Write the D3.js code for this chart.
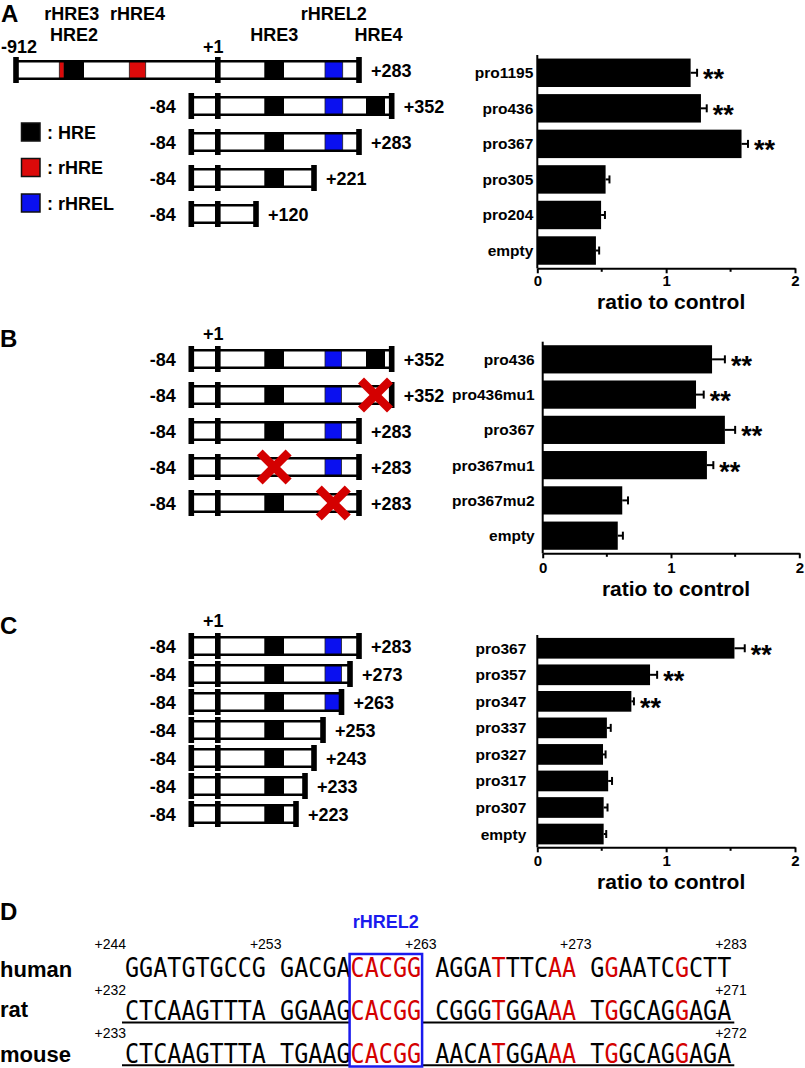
<!DOCTYPE html>
<html><head><meta charset="utf-8">
<script src="https://cdn.jsdelivr.net/npm/d3@7"></script>
<style>
body{margin:0;background:#fff;}
svg{display:block;font-family:"Liberation Sans",Arial,sans-serif;}
</style></head><body>
<svg id="c" width="805" height="1068"></svg>
<script>
// ================= DATA =================
const panelLabels = ["A", "B", "C", "D"];

// --- bar charts (ratio to control) ---
const catsA = ["pro1195", "pro436", "pro367", "pro305", "pro204", "empty"];
const valsA = [1.19, 1.27, 1.585, 0.53, 0.495, 0.455];
const errsA = [0.05, 0.045, 0.05, 0.03, 0.03, 0.025];
const sigA  = ["**", "**", "**", "", "", ""];

const catsB = ["pro436", "pro436mu1", "pro367", "pro367mu1", "pro367mu2", "empty"];
const valsB = [1.32, 1.195, 1.42, 1.28, 0.62, 0.585];
const errsB = [0.10, 0.06, 0.08, 0.05, 0.045, 0.04];
const sigB  = ["**", "**", "**", "**", "", ""];

const catsC = ["pro367", "pro357", "pro347", "pro337", "pro327", "pro317", "pro307", "empty"];
const valsC = [1.53, 0.875, 0.73, 0.54, 0.51, 0.55, 0.515, 0.515];
const errsC = [0.08, 0.055, 0.02, 0.03, 0.02, 0.03, 0.03, 0.02];
const sigC  = ["**", "**", "**", "", "", "", "", ""];

const xDomain = [0, 2];
const xTicks = [0, 1, 2];
const xMinorTicks = [0.5, 1.5];
const xTitle = "ratio to control";

// --- promoter elements (bp relative to +1) ---
const elementNames = ["rHRE3", "HRE2", "rHRE4", "HRE3", "rHREL2", "HRE4"];
const elementTypes = ["rHRE", "HRE", "rHRE", "HRE", "rHREL", "HRE"];
const elementStart = [-700, -690, -400, 150, 259, 320];
const elementEnd   = [-690, -650, -370, 170, 263, 345];

const legendTypes  = ["HRE", "rHRE", "rHREL"];
const legendLabels = [": HRE", ": rHRE", ": rHREL"];

// constructs: start, end, mutated element
const constructsA = [[-912, 283, null], [-84, 352, null], [-84, 283, null], [-84, 221, null], [-84, 120, null]];
const constructsB = [[-84, 352, null], [-84, 352, "HRE4"], [-84, 283, null], [-84, 283, "HRE3"], [-84, 283, "rHREL2"]];
const constructsC = [[-84, 283, null], [-84, 273, null], [-84, 263, null], [-84, 253, null], [-84, 243, null], [-84, 233, null], [-84, 223, null]];

// schematic (not to scale) bp breakpoints for the maps
const mapBreaksA  = [-912, -700, -690, -650, -400, -370, -84, 1, 120, 150, 170, 221, 259, 263, 283, 320, 345, 352];
const mapBreaksBC = [-84, 1, 150, 170, 223, 233, 243, 253, 259, 263, 273, 283, 320, 345, 352];

// --- panel D sequences ---
const species = ["human", "rat", "mouse"];
const sequences = [
  "GGATGTGCCG GACGACACGG AGGATTTCAA GGAATCGCTT",
  "CTCAAGTTTA GGAAGCACGG CGGGTGGAAA TGGCAGGAGA",
  "CTCAAGTTTA TGAAGCACGG AACATGGAAA TGGCAGGAGA"
];
const redIndex = [16, 17, 18, 19, 20, 26, 30, 31, 34, 39];
const boxRange = [16, 20];
const boxLabel = "rHREL2";
const posLabelsHuman = [["+244", 0], ["+253", 9], ["+263", 20], ["+273", 31], ["+283", 42]];
const posLabelsRat   = [["+232", 0], ["+271", 42]];
const posLabelsMouse = [["+233", 0], ["+272", 42]];
const underlined = [false, true, true];

// ================= DRAWING =================
const svg = d3.select("#c");
const FONT = "'Liberation Sans', Arial, sans-serif";
const colors = {HRE: "#000", rHRE: "#dc0a0a", rHREL: "#0a10f0"};
const elements = elementNames.map((n, i) => ({name: n, type: elementTypes[i], s: elementStart[i], e: elementEnd[i]}));

// panel letters
const letterPos = [[1, 22], [0, 347], [0, 634], [0, 920]];
svg.selectAll("text.panel").data(panelLabels).join("text")
  .attr("class", "panel")
  .attr("x", (d, i) => letterPos[i][0]).attr("y", (d, i) => letterPos[i][1])
  .attr("font-size", 24).attr("font-weight", "bold").text(d => d);

// ---------- promoter maps ----------
const scaleA = d3.scaleLinear().domain(mapBreaksA)
  .range([16, 59.3, 64, 84, 129.3, 145.7, 191.3, 217.8, 256, 264.3, 284, 314, 325, 342.7, 359, 366, 385, 391.7]);
const scaleBC = d3.scaleLinear().domain(mapBreaksBC)
  .range([191.3, 217.8, 264.3, 284, 296, 305, 314, 323, 325, 341.5, 350, 359, 366, 385, 391.7]);

const H = 17.4;
function drawConstruct(g, sc, c, y) {
  const [s, e, mut] = c;
  const gg = g.append("g");
  const els = elements.filter(el => el.s < e && el.e > s && el.name !== mut);
  gg.selectAll("rect.el").data(els).join("rect")
    .attr("x", el => sc(Math.max(el.s, s)))
    .attr("width", el => sc(Math.min(el.e, e)) - sc(Math.max(el.s, s)))
    .attr("y", y - H / 2).attr("height", H)
    .attr("fill", el => colors[el.type])
    .attr("stroke", el => el.type === "HRE" ? "none" : "#222").attr("stroke-width", 0.8);
  [y - H / 2, y + H / 2].forEach(yy => gg.append("line")
    .attr("x1", sc(s)).attr("x2", sc(e)).attr("y1", yy).attr("y2", yy)
    .attr("stroke", "#000").attr("stroke-width", 2.6));
  gg.selectAll("rect.tick").data([s, 1, e]).join("rect")
    .attr("x", p => sc(p) - 2.8).attr("width", 5.6)
    .attr("y", y - 13).attr("height", 26).attr("fill", "#000");
  if (s === -84) {
    gg.append("text").attr("x", sc(s) - 15.5).attr("y", y + 7).attr("text-anchor", "end")
      .attr("font-size", 18).attr("font-weight", "bold").text(String(s));
  }
  gg.append("text").attr("x", sc(e) + 12).attr("y", y + 7)
    .attr("font-size", 18).attr("font-weight", "bold").text("+" + e);
  if (mut) {
    const el = elements.find(d => d.name === mut);
    const cx = sc((el.s + el.e) / 2), h = 14.5;
    [[-h, -h, h, h], [-h, h, h, -h]].forEach(l => gg.append("line")
      .attr("x1", cx + l[0]).attr("y1", y + l[1]).attr("x2", cx + l[2]).attr("y2", y + l[3])
      .attr("stroke", "#d40000").attr("stroke-width", 8.5));
  }
}

// Panel A map
const gA = svg.append("g");
const rowYA = d3.scaleLinear().domain([0, 4]).range([70, 214]);
constructsA.forEach((c, i) => drawConstruct(gA, scaleA, c, rowYA(i)));
const upper = [["rHRE3", (scaleA(-700) + scaleA(-650)) / 2], ["rHRE4", scaleA(-385)], ["rHREL2", scaleA(261)]];
const lower = [["HRE2", scaleA(-670)], ["HRE3", scaleA(160)], ["HRE4", scaleA(332.5) + 3]];
gA.selectAll("text.up").data(upper).join("text").attr("x", d => d[1]).attr("y", 20)
  .attr("text-anchor", "middle").attr("font-size", 18).attr("font-weight", "bold").text(d => d[0]);
gA.selectAll("text.lo").data(lower).join("text").attr("x", d => d[1]).attr("y", 40.5)
  .attr("text-anchor", "middle").attr("font-size", 18).attr("font-weight", "bold").text(d => d[0]);
gA.append("text").attr("x", scaleA(-912) + 3).attr("y", 52.5).attr("text-anchor", "middle")
  .attr("font-size", 18).attr("font-weight", "bold").text("-912");
gA.append("text").attr("x", scaleA(1) - 4.5).attr("y", 52.5).attr("text-anchor", "middle")
  .attr("font-size", 18).attr("font-weight", "bold").text("+1");
// legend
const legY = d3.scaleLinear().domain([0, 2]).range([132, 203]);
legendTypes.forEach((t, i) => {
  gA.append("rect").attr("x", 21.5).attr("y", legY(i) - 9).attr("width", 18.5).attr("height", 18)
    .attr("fill", colors[t]).attr("stroke", "#111").attr("stroke-width", 1.5);
  gA.append("text").attr("x", 47).attr("y", legY(i) + 6.5).attr("font-size", 18)
    .attr("font-weight", "bold").text(legendLabels[i]);
});

// Panel B map
const gB = svg.append("g");
const rowYB = d3.scaleLinear().domain([0, 4]).range([359, 503]);
constructsB.forEach((c, i) => drawConstruct(gB, scaleBC, c, rowYB(i)));
gB.append("text").attr("x", scaleBC(1) - 4.5).attr("y", 340).attr("text-anchor", "middle")
  .attr("font-size", 18).attr("font-weight", "bold").text("+1");

// Panel C map
const gC = svg.append("g");
const rowYC = d3.scaleLinear().domain([0, 6]).range([646, 814]);
constructsC.forEach((c, i) => drawConstruct(gC, scaleBC, c, rowYC(i)));
gC.append("text").attr("x", scaleBC(1) - 4.5).attr("y", 627).attr("text-anchor", "middle")
  .attr("font-size", 18).attr("font-weight", "bold").text("+1");

// ---------- bar charts ----------
function barChart(cats, vals, errs, sig, xr, yr, gap, padIn, padOut, tickOff, titleOff) {
  const g = svg.append("g");
  const x = d3.scaleLinear().domain(xDomain).range(xr);
  const y = d3.scaleBand().domain(cats).range(yr).paddingInner(padIn).paddingOuter(padOut);
  const bw = y.bandwidth();
  g.selectAll("rect.bar").data(cats).join("rect")
    .attr("x", x(0)).attr("y", d => y(d))
    .attr("width", (d, i) => x(vals[i]) - x(0)).attr("height", bw).attr("fill", "#000");
  g.selectAll("line.err").data(cats).join("line")
    .attr("x1", (d, i) => x(vals[i])).attr("x2", (d, i) => x(vals[i] + errs[i]))
    .attr("y1", d => y(d) + bw / 2).attr("y2", d => y(d) + bw / 2)
    .attr("stroke", "#000").attr("stroke-width", 2);
  g.selectAll("line.cap").data(cats).join("line")
    .attr("x1", (d, i) => x(vals[i] + errs[i])).attr("x2", (d, i) => x(vals[i] + errs[i]))
    .attr("y1", d => y(d) + bw / 2 - 4).attr("y2", d => y(d) + bw / 2 + 4)
    .attr("stroke", "#000").attr("stroke-width", 2);
  g.selectAll("text.sig").data(cats).join("text")
    .attr("x", (d, i) => x(vals[i] + errs[i]) + 6).attr("y", d => y(d) + bw / 2 + 15.5)
    .attr("font-size", 27).attr("font-weight", "bold").text((d, i) => sig[i]);
  g.selectAll("text.cat").data(cats).join("text")
    .attr("x", x(0) - gap).attr("y", d => y(d) + bw / 2 + 5.5).attr("text-anchor", "end")
    .attr("font-size", 15.5).attr("font-weight", "bold").text(d => d);
  g.append("line").attr("x1", x(0)).attr("x2", x(0)).attr("y1", yr[0]).attr("y2", yr[1])
    .attr("stroke", "#000").attr("stroke-width", 2);
  const ax = g.append("g").attr("transform", `translate(0,${yr[1]})`)
    .call(d3.axisBottom(x).tickValues(xTicks).tickFormat(d3.format("d"))
      .tickSize(5).tickSizeOuter(0).tickPadding(4));
  ax.attr("font-family", FONT).attr("font-size", 15).attr("font-weight", "bold");
  ax.select(".domain").attr("stroke-width", 2);
  ax.selectAll(".tick line").attr("stroke-width", 2);
  ax.selectAll(".tick text").attr("dy", null).attr("y", tickOff);
  g.selectAll("line.minor").data(xMinorTicks).join("line")
    .attr("x1", d => x(d)).attr("x2", d => x(d)).attr("y1", yr[1]).attr("y2", yr[1] + 3.5)
    .attr("stroke", "#000").attr("stroke-width", 2);
  g.append("text").attr("x", (xr[0] + xr[1]) / 2 + 5).attr("y", yr[1] + titleOff)
    .attr("text-anchor", "middle").attr("font-size", 21).attr("font-weight", "bold").text(xTitle);
}
barChart(catsA, valsA, errsA, sigA, [537.3, 795], [55, 268.3], 4, 0.2, 0.1, 17.5, 40.2);
barChart(catsB, valsB, errsB, sigB, [542.7, 799.3], [341.7, 553.3], 8, 0.2, 0.1, 20, 42.7);
barChart(catsC, valsC, errsC, sigC, [537.3, 795], [635, 847.3], 11, 0.22, 0.11, 18.5, 41.2);

// ---------- panel D ----------
const gD = svg.append("g");
const ADV = 14.1;
const seqX = d3.scaleLinear().domain([0, 43]).range([125, 125 + 43 * ADV]);
const seqBase = [976.7, 1020, 1062.7];
const labelBase = [948.5, 995, 1037.5];
const nameBase = [976.7, 1017.3, 1061.7];
gD.selectAll("text.sp").data(species).join("text")
  .attr("x", 0).attr("y", (d, i) => nameBase[i])
  .attr("font-size", 22).attr("font-weight", "bold").text(d => d);
sequences.forEach((seq, r) => {
  const runs = [];
  for (let i = 0; i < seq.length; i++) {
    if (seq[i] === " ") continue;
    const red = redIndex.includes(i);
    const last = runs[runs.length - 1];
    if (last && last.red === red && last.end === i - 1) { last.s += seq[i]; last.end = i; }
    else runs.push({red, s: seq[i], start: i, end: i});
  }
  const row = gD.append("g").attr("transform", `translate(0,${seqBase[r]}) scale(1,1.12)`);
  row.selectAll("text").data(runs).join("text")
    .attr("x", d => seqX(d.start)).attr("y", 0)
    .attr("font-family", "'DejaVu Sans Mono', monospace").attr("font-size", ADV / 0.602)
    .attr("fill", d => d.red ? "#d40000" : "#000").text(d => d.s);
  if (underlined[r]) {
    [[seqX(0) - 3, seqX(boxRange[0]) - 1], [seqX(boxRange[1] + 1) + 1, seqX(43) + 3]].forEach(sg =>
      gD.append("line").attr("x1", sg[0]).attr("x2", sg[1])
        .attr("y1", seqBase[r] + 2.5).attr("y2", seqBase[r] + 2.5)
        .attr("stroke", "#000").attr("stroke-width", 2));
  }
});
[posLabelsHuman, posLabelsRat, posLabelsMouse].forEach((pl, r) => {
  gD.selectAll(null).data(pl).join("text")
    .attr("x", d => d[1] === 0 ? seqX(0) + 1 : seqX(d[1]) - 2)
    .attr("y", labelBase[r])
    .attr("text-anchor", d => d[1] === 0 ? "end" : "start")
    .attr("font-size", 14).text(d => d[0]);
});
gD.append("rect").attr("x", seqX(boxRange[0]) - 1).attr("y", 954)
  .attr("width", seqX(boxRange[1] + 1) - seqX(boxRange[0]) + 2).attr("height", 112.5)
  .attr("fill", "none").attr("stroke", "#1a1aee").attr("stroke-width", 2.5);
gD.append("text").attr("x", (seqX(boxRange[0]) + seqX(boxRange[1] + 1)) / 2).attr("y", 928)
  .attr("text-anchor", "middle").attr("font-size", 18).attr("font-weight", "bold")
  .attr("fill", "#1a1aee").text(boxLabel);
</script></body></html>
